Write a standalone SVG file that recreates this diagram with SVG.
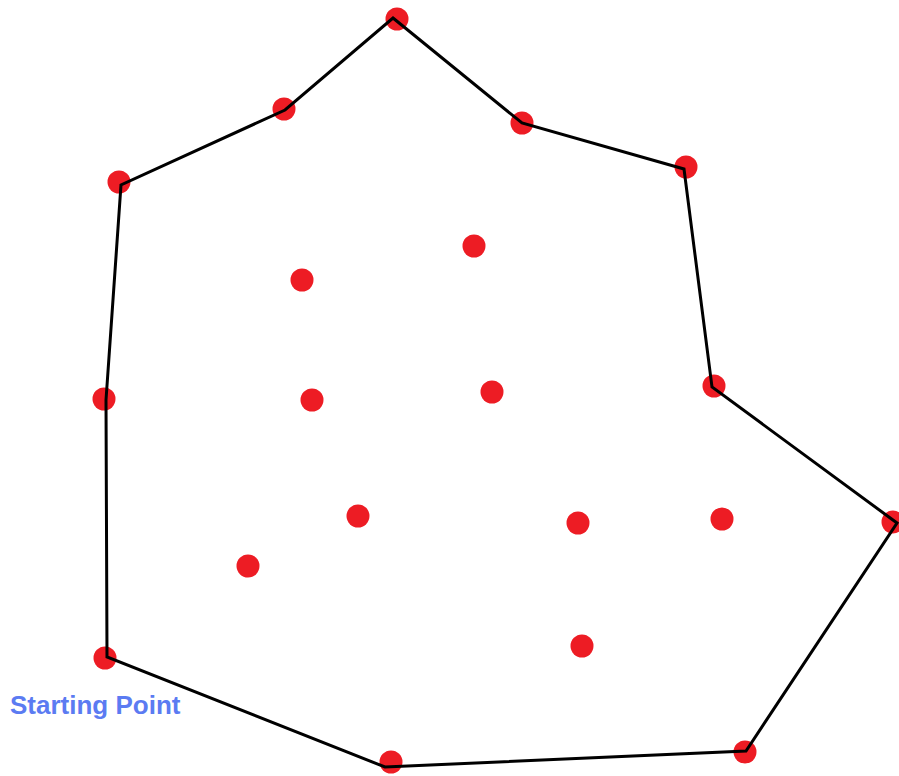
<svg xmlns="http://www.w3.org/2000/svg" width="899" height="776" viewBox="0 0 899 776">
<style>
.pt{fill:#ed1c24}
.edge{fill:none;stroke:#000;stroke-width:3;stroke-linejoin:miter}
.lbl{font-family:"Liberation Sans",Arial,sans-serif;font-weight:bold;font-size:26px;fill:#5b7bf2}
</style>
<defs><circle id="dot" r="11.5" class="pt"/></defs>
<rect width="899" height="776" fill="#fff"/>
<g id="nodes">
<g id="h1"><use href="#dot" x="397" y="19"/></g>
<g id="h2"><use href="#dot" x="522" y="123"/></g>
<g id="h3"><use href="#dot" x="686" y="167"/></g>
<g id="h4"><use href="#dot" x="714" y="386"/></g>
<g id="h5"><use href="#dot" x="893" y="522"/></g>
<g id="h6"><use href="#dot" x="745" y="752"/></g>
<g id="h7"><use href="#dot" x="391" y="762"/></g>
<g id="h8"><use href="#dot" x="105" y="658"/></g>
<g id="h9"><use href="#dot" x="104" y="399"/></g>
<g id="h10"><use href="#dot" x="119" y="182"/></g>
<g id="h11"><use href="#dot" x="284" y="109"/></g>
<g id="i1"><use href="#dot" x="474" y="246"/></g>
<g id="i2"><use href="#dot" x="302" y="280"/></g>
<g id="i3"><use href="#dot" x="312" y="400"/></g>
<g id="i4"><use href="#dot" x="492" y="392"/></g>
<g id="i5"><use href="#dot" x="358" y="516"/></g>
<g id="i6"><use href="#dot" x="578" y="523"/></g>
<g id="i7"><use href="#dot" x="722" y="519"/></g>
<g id="i8"><use href="#dot" x="248" y="566"/></g>
<g id="i9"><use href="#dot" x="582" y="646"/></g>
</g>
<g id="connectors">
<polygon class="edge" points="393,18 522,123 684,169 712,387 897,523 746,751 385,767 107,657 106,400 121,185 285,110"/>
</g>
<g id="label"><text class="lbl" x="10" y="714">Starting Point</text></g>
</svg>
